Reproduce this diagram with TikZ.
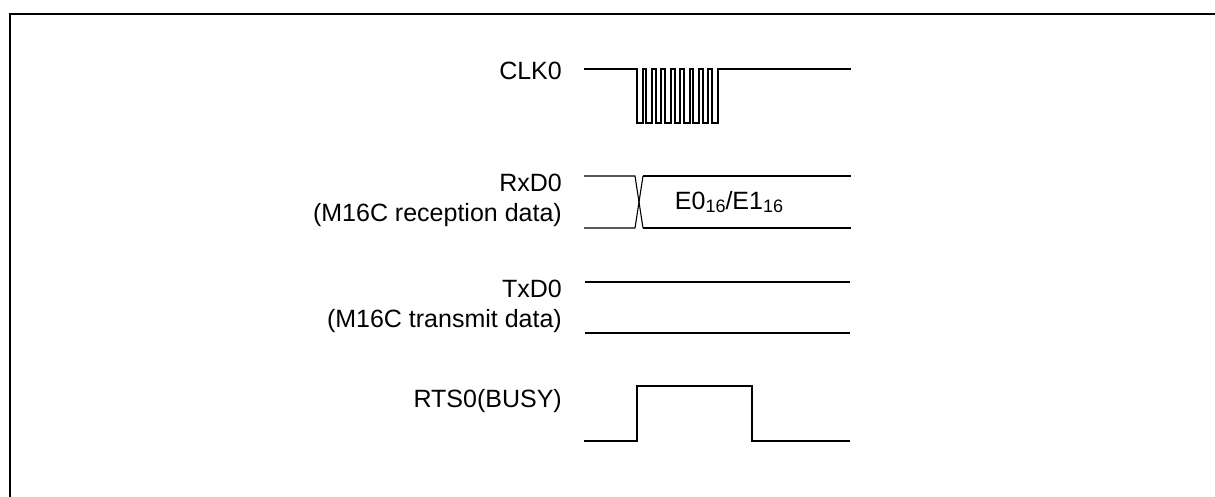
\documentclass[tikz,border=0pt]{standalone}
\usepackage{fontspec}
\setmainfont{Liberation Sans}
\usetikzlibrary{positioning}
\definecolor{ink}{RGB}{0,0,0}
\tikzset{
  sig/.style={draw=ink,line width=2pt,line join=miter},
  thin sig/.style={draw=ink,line width=1.1pt},
  bold sig/.style={draw=ink,line width=2.4pt},
  frame/.style={draw=ink,line width=2.6pt},
  name tag/.style={anchor=east,align=right,font=\fontsize{25}{30}\selectfont,inner sep=0pt},
  data tag/.style={font=\fontsize{25}{30}\selectfont,inner sep=0pt},
}
\newcommand{\hexsub}[1]{\raisebox{-0.2ex}{\fontsize{18}{20}\selectfont#1}}

\begin{document}
\begin{tikzpicture}[x=1pt,y=-1pt]
    \useasboundingbox (0,0) rectangle (1215,496);
    \draw[frame] (10,497) -- (10,14) -- (1216,14);
    % signal names
    \node[name tag] (clk) at (562,71) {CLK0};
    \node[name tag] (rxd) at (562,200) {RxD0\\(M16C reception data)};
    \node[name tag] (txd) at (562,306) {TxD0\\(M16C transmit data)};
    \node[name tag] (rts) at (562,401) {RTS0(BUSY)};
    % clock burst
    \draw[sig] (584,69) -- (637,69)
      \foreach \i in {0,...,8}{ -- ++(0,54) -- ++(5.6,0) -- ++(0,-54) -- ++(3.8,0)}
      -- (851,69);
    % received byte
    \draw[thin sig] (584,176) -- (635,176) -- (643,228);
    \draw[thin sig] (584,228) -- (635,228) -- (643,176);
    \draw[bold sig] (643,176) -- (755,176) (643,228) -- (755,228);
    \draw[thin sig] (755,176) -- (851,176) (755,228) -- (851,228);
    \node[data tag] (byte) at (729,202) {E0\hexsub{16}/E1\hexsub{16}};
    % transmit line
    \draw[thin sig] (585,282) -- (850,282) (585,333) -- (850,333);
    % busy
    \draw[sig] (584,441) -- (637,441) -- (637,386) -- (752,386) -- (752,441) -- (850,441);
  \end{tikzpicture}
\end{document}
